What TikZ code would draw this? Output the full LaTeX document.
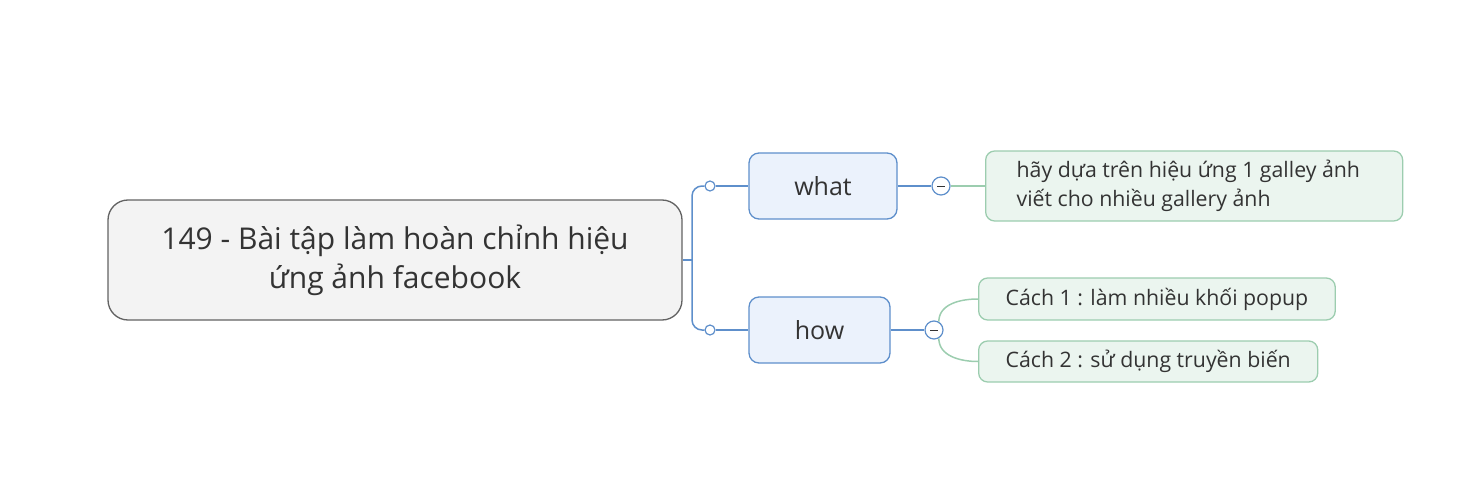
\documentclass[tikz,border=0pt]{standalone}
\usepackage{fontspec}
\setmainfont{Open Sans}
\usetikzlibrary{positioning,calc}
\definecolor{rootfill}{HTML}{F3F3F3}
\definecolor{rootline}{HTML}{626262}
\definecolor{bluefill}{HTML}{EBF2FC}
\definecolor{blueline}{HTML}{5E8FCB}
\definecolor{greenfill}{HTML}{EBF5EF}
\definecolor{greenline}{HTML}{9CCDAF}
\definecolor{txt}{HTML}{333333}
\tikzset{root/.style={draw=rootline, fill=rootfill, rounded corners=20pt, line width=1.3pt, minimum width=574pt, minimum height=120pt, align=center, text=txt, font=\fontsize{30}{39}\selectfont}}
\tikzset{knob/.style={draw=blueline, fill=white, circle, line width=1.2pt, inner sep=0pt, minimum size=10pt}}
\tikzset{fold/.style={draw=blueline, fill=white, circle, line width=1.2pt, inner sep=0pt, minimum size=18pt,
  path picture={\draw[txt, line width=0.9pt] ([xshift=-4pt]path picture bounding box.center) -- ([xshift=4pt]path picture bounding box.center);}}}
\tikzstyle{topic}=[draw=blueline, fill=bluefill, rounded corners=10pt, line width=1.3pt, minimum height=66pt, text=txt, font=\fontsize{25}{28}\selectfont]
\tikzstyle{leaf}=[draw=greenline, fill=greenfill, rounded corners=9pt, line width=1.3pt, anchor=west, align=flush left, text=txt, font=\fontsize{21.3}{29}\selectfont]
\tikzstyle{bline}=[draw=blueline, line width=1.5pt]
\tikzstyle{gline}=[draw=greenline, line width=1.5pt]

\begin{document}
\begin{tikzpicture}[x=1pt, y=1pt]
\useasboundingbox (0,0) rectangle (1466,-500);
\node[root] (R) at (395,-260) {149 - Bài tập làm hoàn chỉnh hiệu\\ứng ảnh facebook};
\node[knob] (K1) at (710,-186) {};
\node[knob] (K2) at (710,-330) {};
\node[topic, minimum width=148pt] (What) at (823,-186) {what};
\node[topic, minimum width=141pt] (How) at (819.5,-330) {how};
\node[fold] (M1) at (941,-186) {};
\node[fold] (M2) at (934,-330) {};
\node[leaf, text width=355pt, minimum height=70pt, inner xsep=31pt] (G1) at (985,-186) {hãy dựa trên hiệu ứng 1 galley ảnh\\viết cho nhiều gallery ảnh};
\node[leaf, minimum height=42pt, inner xsep=27pt] (C1) at (978,-299) {Cách 1 : làm nhiều khối popup};
\node[leaf, minimum height=41pt, inner xsep=27pt] (C2) at (978,-361.5) {Cách 2 : sử dụng truyền biến};
\coordinate (F) at (692,-260);

\draw[bline] (R.east) -- (F);
\draw[bline, rounded corners=10pt] (F) |- (K1);
\draw[bline, rounded corners=10pt] (F) |- (K2);
\path[bline] (K1) edge (What)
	(K2) edge (How)
	(What) edge (M1)
	(How) edge (M2);
\path[gline] (M1) edge (G1)
	(M2.60) edge[out=90, in=180] (C1.west)
	(M2.-60) edge[out=-90, in=180] (C2.west);
\end{tikzpicture}
\end{document}
